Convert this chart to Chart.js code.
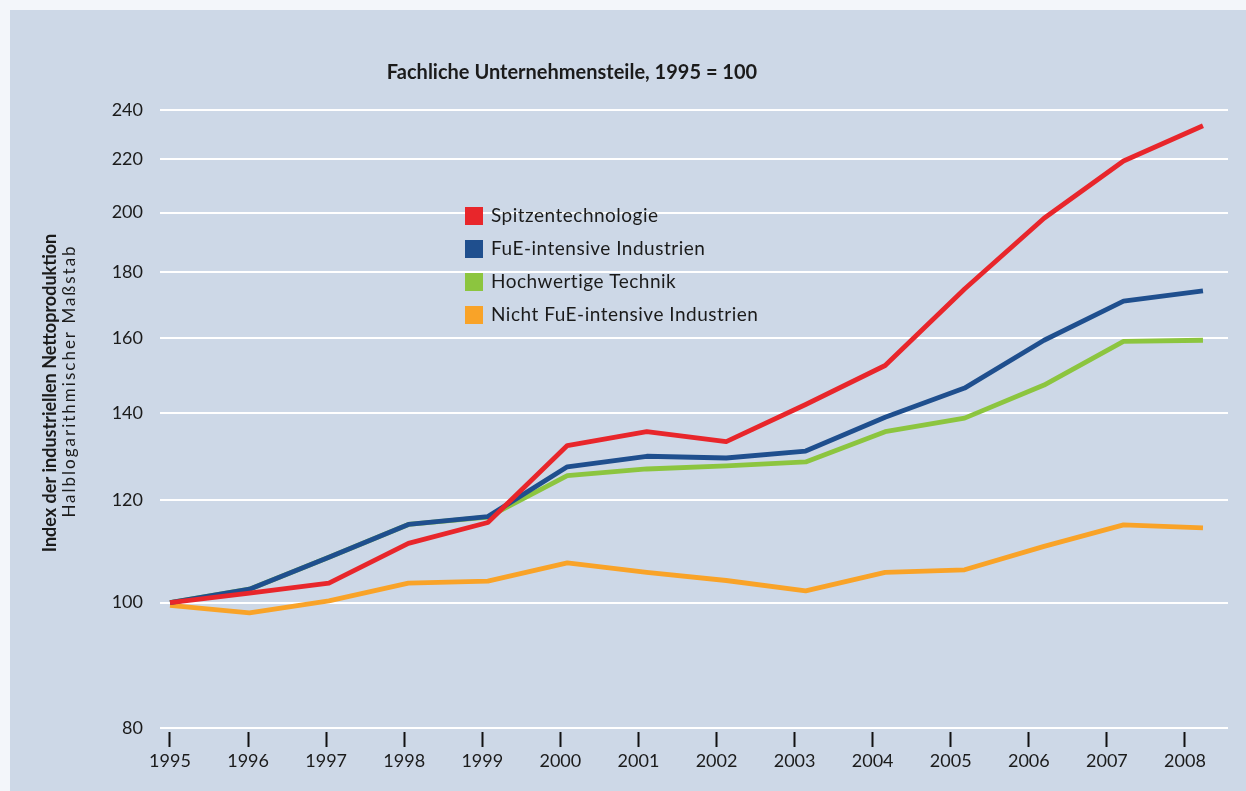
<!DOCTYPE html>
<html lang="de">
<head>
<meta charset="utf-8">
<title>Fachliche Unternehmensteile, 1995 = 100</title>
<script src="https://cdn.jsdelivr.net/npm/chart.js@4.4.1/dist/chart.umd.min.js"></script>
<style>
  html, body { margin: 0; padding: 0; background: #f3f6fa; }
  #wrap { width: 1246px; height: 791px; position: relative; }
</style>
</head>
<body>
<div id="wrap"><canvas id="chart"></canvas></div>
<script>
// Data (index, 1995 = 100)
const years = [1995, 1996, 1997, 1998, 1999, 2000, 2001, 2002, 2003, 2004, 2005, 2006, 2007, 2008];
const yearTicks = [1995, 1996, 1997, 1998, 1999, 2000, 2001, 2002, 2003, 2004, 2005, 2006, 2007, 2008];
const yTicks = [80, 100, 120, 140, 160, 180, 200, 220, 240];

const spitzentechnologie = [100, 101.7, 103.5, 111.1, 115.3, 132.2, 135.5, 133.1, 142.2, 152.4, 174.6, 198.0, 219.2, 233.4];
const fueIntensiv = [100, 102.4, 108.4, 114.9, 116.5, 127.3, 129.7, 129.3, 130.9, 139.0, 146.4, 159.4, 170.9, 174.0];
const hochwertigeTechnik = [100, 102.4, 108.4, 114.9, 116.4, 125.3, 126.8, 127.5, 128.4, 135.5, 138.8, 147.2, 159.1, 159.4];
const nichtFueIntensiv = [99.5, 98.2, 100.3, 103.5, 103.9, 107.3, 105.5, 104.0, 102.1, 105.5, 106.0, 110.5, 114.8, 114.2];

const TITLE = "Fachliche Unternehmensteile, 1995 = 100";
const Y_TITLE = ["Index der industriellen Nettoproduktion", "Halblogarithmischer Maßstab"];

const TEXT = "#1b1b1b";
const FONT = "Lato";
Chart.defaults.font.family = FONT;

function points(values) {
  return years.map((yr, i) => ({ x: yr, y: values[i] }));
}

function series(label, values, color) {
  return {
    label: label,
    data: points(values),
    borderColor: color,
    backgroundColor: color,
    borderWidth: 4.8,
    borderJoinStyle: "round",
    pointRadius: 0,
    tension: 0,
    fill: false,
  };
}

// panel background
const backdrop = {
  id: "backdrop",
  beforeDraw(chart) {
    const { ctx, width, height } = chart;
    ctx.save();
    ctx.fillStyle = "#f3f6fa";
    ctx.fillRect(0, 0, width, height);
    ctx.fillStyle = "#cdd8e7";
    ctx.fillRect(10, 10, width - 10, height - 10);
    ctx.restore();
  },
};

// title, rotated axis title and the inset legend
const annotations = {
  id: "annotations",
  afterDraw(chart) {
    const ctx = chart.ctx;
    ctx.save();
    ctx.fillStyle = TEXT;

    ctx.font = `bold 20px ${FONT}`;
    ctx.textAlign = "center";
    ctx.textBaseline = "middle";
    ctx.fillText(TITLE, 572, 73);

    ctx.save();
    ctx.translate(50, 393);
    ctx.rotate(-Math.PI / 2);
    ctx.font = `bold 18px ${FONT}`;
    ctx.fillText(Y_TITLE[0], 0, 0);
    ctx.restore();

    ctx.save();
    ctx.translate(70, 381);
    ctx.rotate(-Math.PI / 2);
    ctx.font = `17px ${FONT}`;
    ctx.letterSpacing = "2px";
    ctx.fillText(Y_TITLE[1], 0, 0);
    ctx.restore();

    // legend
    ctx.font = `19px ${FONT}`;
    ctx.letterSpacing = "0.5px";
    ctx.textAlign = "left";
    chart.data.datasets.forEach((ds, i) => {
      const top = 207 + i * 33;
      ctx.fillStyle = ds.borderColor;
      ctx.fillRect(465, top, 18, 18);
      ctx.fillStyle = TEXT;
      ctx.fillText(ds.label, 491, top + 9);
    });
    ctx.restore();
  },
};

new Chart(document.getElementById("chart").getContext("2d"), {
  type: "line",
  data: {
    datasets: [
      series("Spitzentechnologie", spitzentechnologie, "#e8262b"),
      series("FuE-intensive Industrien", fueIntensiv, "#1f4f8e"),
      series("Hochwertige Technik", hochwertigeTechnik, "#8cc53f"),
      series("Nicht FuE-intensive Industrien", nichtFueIntensiv, "#f9a328"),
    ],
  },
  options: {
    responsive: true,
    maintainAspectRatio: false,
    animation: false,
    layout: { padding: { left: 0, right: 18, top: 110, bottom: 0 } },
    plugins: {
      legend: { display: false },
      tooltip: { enabled: false },
    },
    scales: {
      x: {
        type: "linear",
        display: false,
        min: 1994.874,
        max: 2008.315,
      },
      years: {
        type: "linear",
        position: "bottom",
        min: 1994.872,
        max: 2008.551,
        afterBuildTicks: (scale) => {
          scale.ticks = yearTicks.map((v) => ({ value: v }));
        },
        afterFit: (scale) => {
          scale.height = 59;
        },
        border: { display: false },
        grid: {
          drawOnChartArea: false,
          drawTicks: true,
          tickLength: 15,
          tickWidth: 2,
          tickColor: "#111",
        },
        ticks: {
          color: TEXT,
          font: { size: 18 },
          padding: 3,
          autoSkip: false,
          maxRotation: 0,
          callback: (v) => String(v),
        },
      },
      y: {
        type: "logarithmic",
        min: 79.45,
        max: 240,
        afterBuildTicks: (scale) => {
          scale.ticks = yTicks.map((v) => ({ value: v }));
        },
        afterFit: (scale) => {
          scale.width = 160;
        },
        border: { display: false },
        grid: {
          color: "#ffffff",
          lineWidth: 2,
          drawTicks: false,
        },
        ticks: {
          color: TEXT,
          font: { size: 18 },
          padding: 17,
          callback: (v) => String(v),
        },
      },
    },
  },
  plugins: [backdrop, annotations],
});
</script>
</body>
</html>
